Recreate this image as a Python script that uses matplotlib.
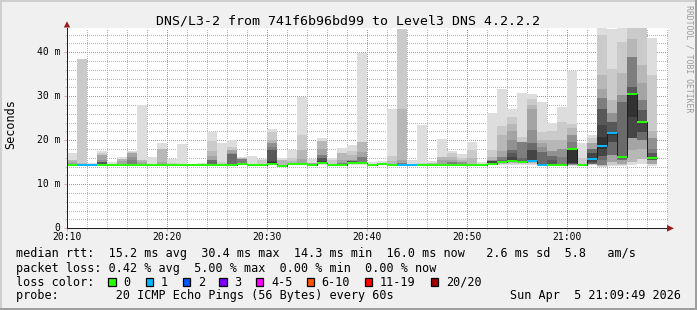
import numpy as np
import matplotlib
matplotlib.use("Agg")
import matplotlib.pyplot as plt
from matplotlib.patches import Rectangle, Polygon

# ---------------- data ----------------
time_labels = ["20:10", "20:20", "20:30", "20:40", "20:50", "21:00"]
y_labels = ["0", "10 m", "20 m", "30 m", "40 m"]

nan = float("nan")
# median rtt per minute (ms), 20:10 .. 21:09
median = [14.3, 14.3, 14.3, 14.3, 14.3, 14.3, 14.3, 14.3, 14.3, 14.3,
          14.3, 14.3, 14.3, 14.3, 14.3, 14.3, 14.3, 14.5, 14.3, 14.3,
          14.5, 14.2, 14.5, 14.5, 14.3, 14.8, 14.3, 14.3, 14.8, 14.8,
          14.3, 14.5, 14.3, 14.3, 14.3, 14.4, 14.3, 14.3, 14.3, 14.3,
          14.3, 14.3, 14.6, 15.0, 15.3, 15.1, 15.3, 14.4, 14.3, 14.4,
          18.0, 14.4, 15.8, 18.6, 21.6, 16.1, 30.4, 24.1, 16.0, nan]

# lost pings (of 20) per minute
loss_pings = [0, 1, 1, 0, 0, 0, 0, 0, 0, 0,
              0, 0, 0, 0, 0, 0, 0, 0, 0, 0,
              0, 0, 0, 0, 0, 0, 0, 0, 0, 0,
              0, 0, 0, 1, 1, 0, 0, 0, 0, 0,
              0, 0, 0, 0, 0, 0, 1, 1, 0, 0,
              0, 0, 1, 1, 1, 0, 0, 0, 0, 0]

# smoke: upper edges of ping-rank bands (outer -> inner), ms
smoke_hi = [
    [17.1, 15.5, 15.5, 15.1],
    [38.5, 38.5, 14.8],
    [14.85],
    [17.6, 17.1, 16.6, 16.6, 15.5, 15.1, 15.1, 15.1],
    [15.0],
    [16.1, 15.8, 15.8, 15.2],
    [17.6, 17.3, 17.05, 17.05, 16.1, 15.5],
    [28.0, 15.5, 15.5, 15.1],
    [16.1],
    [19.4, 18.0, 18.0, 15.0],
    [15.75, 14.85],
    [19.1],
    [14.5],
    [14.85],
    [21.9, 19.85, 17.5, 16.4, 15.5, 15.5, 15.5],
    [19.4, 15.1],
    [20.0, 18.5, 17.9, 17.9, 17.1, 16.8, 16.8],
    [16.2, 15.9, 15.9, 15.7, 15.7, 15.7],
    [16.4],
    [15.75, 15.5],
    [22.5, 21.8, 20.0, 19.3, 19.3, 18.5, 17.8, 17.8, 15.25, 15.0],
    [15.9, 15.5, 15.5],
    [17.9, 16.0, 15.2],
    [29.9, 21.1, 17.7, 15.7],
    [15.85, 14.9, 14.9, 14.9],
    [20.5, 19.85, 19.85, 18.1, 16.7, 16.7, 16.0, 16.0, 15.2],
    [16.0, 15.5],
    [18.2, 17.0, 17.0, 15.5, 14.9, 14.9],
    [18.9, 17.65, 16.6, 15.6, 15.6, 15.2, 15.2, 15.2],
    [39.9, 19.6, 19.6, 17.35, 16.2, 16.2, 15.1, 15.1, 15.1, 15.1],
    [15.1],
    [15.4, 14.9, 14.9],
    [27.0, 16.45, 15.2],
    [45.2, 45.2, 27.0, 15.5, 14.9, 14.9],
    [15.5],
    [23.4, 14.9],
    [15.2, 14.85, 14.85],
    [20.2, 16.2, 16.2, 15.5],
    [17.5, 17.1, 16.2, 15.6, 15.1, 15.1],
    [16.9, 16.0, 15.6, 15.1, 15.1],
    [19.55, 17.9, 16.0],
    [15.1],
    [26.3, 17.7, 16.2, 15.6, 15.6, 15.2, 15.2, 15.2, 15.2],
    [31.6, 23.3, 21.1, 17.5, 16.2, 16.2, 15.5],
    [27.0, 25.3, 23.8, 22.05, 20.0, 17.9, 17.9, 17.0, 16.1],
    [30.8, 20.7, 19.7, 19.7, 19.7, 19.7, 16.0],
    [30.6, 29.3, 28.0, 27.2, 22.3, 19.3, 19.3, 17.7, 17.7],
    [28.7, 21.9, 20.0, 19.3, 18.5, 17.35, 17.35],
    [23.9, 22.05, 20.0, 17.6, 17.6, 16.4, 16.4, 15.5],
    [27.6, 24.2, 20.0, 18.1, 18.1, 16.1],
    [35.8, 23.8, 22.7, 21.1, 21.1, 19.5],
    [19.3, 16.0],
    [21.3, 20.6, 19.3, 19.3, 18.1, 18.1, 18.1, 17.0, 17.0],
    [45.5, 43.9, 34.8, 31.7, 29.5, 29.5, 27.2, 27.2, 23.4, 20.8],
    [45.2, 36.1, 29.1, 26.1, 26.1, 24.2, 24.2, 24.2, 21.9, 21.9],
    [45.4, 42.4, 35.2, 30.2, 30.2, 28.7, 28.7],
    [45.5, 45.5, 43.1, 39.0, 39.0, 39.0, 32.1, 32.1, 30.6],
    [45.4, 45.4, 37.05, 32.9, 29.1, 29.1, 26.8, 26.8, 24.3],
    [43.3, 34.9, 22.05, 20.4, 20.4, 18.1, 17.0, 17.0],
    [],
]

# smoke: lower edges of ping-rank bands (outer -> inner), ms
smoke_lo = [[] for _ in range(60)]
smoke_lo[17] = [14.3]
smoke_lo[20] = [14.3, 14.4]
smoke_lo[22] = [14.3]
smoke_lo[23] = [14.3]
smoke_lo[25] = [14.3, 14.5]
smoke_lo[28] = [14.3, 14.5]
smoke_lo[29] = [14.3, 14.5]
smoke_lo[31] = [14.3]
smoke_lo[42] = [14.3, 14.4]
smoke_lo[43] = [14.3, 14.5, 14.7]
smoke_lo[44] = [14.3, 14.6, 14.8, 15.0]
smoke_lo[45] = [14.3, 14.6, 14.8]
smoke_lo[46] = [14.3, 14.6, 14.8, 15.0]
smoke_lo[50] = [14.2, 14.3, 14.3, 14.3, 14.3, 14.5, 14.5, 14.5, 14.75, 14.75]
smoke_lo[52] = [14.3, 14.4, 14.5, 14.6, 14.6, 14.6, 14.7, 14.9, 15.1]
smoke_lo[53] = [14.0, 14.1, 14.2, 14.3, 14.3, 14.3, 15.5, 16.4, 16.4, 18.1]
smoke_lo[54] = [14.2, 14.3, 15.1, 15.1, 16.6, 16.6, 16.6, 19.6, 19.6, 21.3]
smoke_lo[55] = [14.2, 14.4, 14.7, 14.7, 15.5, 15.5, 15.5]
smoke_lo[56] = [14.3, 15.1, 15.1, 17.7, 20.4, 20.4, 20.4, 20.4, 20.4, 25.3]
smoke_lo[57] = [14.5, 15.8, 15.8, 18.1, 20.0, 20.0, 20.0, 21.9, 21.9, 24.0]
smoke_lo[58] = [14.2, 14.5, 14.7, 14.7, 15.5, 15.5, 15.5, 15.5]

loss_labels = ["0", "1", "2", "3", "4-5", "6-10", "11-19", "20/20"]
loss_upper = [0, 1, 2, 3, 5, 10, 19, 20]
loss_colors = ["#26ff00", "#00b8ff", "#0059ff", "#7e00ff",
               "#ff00ff", "#ff5500", "#ff0000", "#a10000"]

title = "DNS/L3-2 from 741f6b96bd99 to Level3 DNS 4.2.2.2"
stat_rtt = "median rtt:  15.2 ms avg  30.4 ms max  14.3 ms min  16.0 ms now   2.6 ms sd  5.8   am/s"
stat_loss = "packet loss: 0.42 % avg  5.00 % max  0.00 % min  0.00 % now"
probe = "probe:        20 ICMP Echo Pings (56 Bytes) every 60s"
stamp = "Sun Apr  5 21:09:49 2026"

# ---------------- figure ----------------
plt.rcParams["font.family"] = ["DejaVu Sans Mono"]
W, H = 697, 310
fig = plt.figure(figsize=(W / 100, H / 100), dpi=100, facecolor="#f0f0f0")


def fx(x):
    return x / W


def fy(y):
    return 1 - y / H


L, R, T, B = 67, 668, 28, 228.3
ax = fig.add_axes([fx(L), fy(B), (R - L) / W, (B - T) / H])
ax.set_facecolor("white")
ax.set_xlim(0, 60.1)
ax.set_ylim(0, 45.5)
ms_per_px = 45.5 / (B - T)

n = len(median)
xs = np.arange(n)
med = np.array(median, dtype=float)

# smoke bands
for lev in range(10):
    lo = np.array([smoke_lo[k][lev] if lev < len(smoke_lo[k]) else med[k] for k in range(n)])
    hi = np.array([smoke_hi[k][lev] if lev < len(smoke_hi[k]) else med[k] for k in range(n)])
    g = int(190 / 10 * (10 - (lev + 1))) + 50
    col = "#%02x%02x%02x" % (g, g, g)
    h = hi - lo
    ok = np.isfinite(h) & (h > 0)
    ax.bar(xs[ok], h[ok], bottom=lo[ok], width=1, align="edge", color=col,
           linewidth=0, zorder=2)

# median step line
valid = np.isfinite(med)
ax.stairs(med[valid], np.arange(valid.sum() + 1), baseline=None,
          color="#202020", linewidth=0.72, zorder=3)

# median coloured by loss
loss_arr = np.array(loss_pings)
cls = np.searchsorted(np.array(loss_upper), loss_arr)
for c, col in enumerate(loss_colors):
    m = (cls == c) & valid
    if m.any():
        ax.bar(xs[m], np.full(m.sum(), 2 * ms_per_px), bottom=med[m] - ms_per_px,
               width=1, align="edge", color=col, linewidth=0, zorder=4)

# grid
ax.set_xticks(np.arange(0, 51, 10))
ax.set_xticks(np.arange(0, 61, 2), minor=True)
ax.set_xticklabels(time_labels)
ax.set_yticks(np.arange(0, 41, 10))
ax.set_yticks(np.arange(0, 45, 2), minor=True)
ax.set_yticklabels(y_labels, va="center")
ax.set_axisbelow(True)
ax.grid(which="minor", color="#b6b6b6", linestyle=(0, (0.72, 1.44)), linewidth=0.72,
        antialiased=False)
ax.grid(which="major", color="#e07e7e", linestyle=(0, (0.72, 1.44)), linewidth=0.72,
        antialiased=False)
ax.tick_params(which="major", length=2.2, width=0.72, color="#e8a0a0",
               labelsize=7.05, direction="out")
ax.tick_params(which="minor", length=1.4, width=0.72, color="#c8c8c8", direction="out")
ax.tick_params(axis="x", which="major", pad=0.8)
ax.tick_params(axis="y", which="major", pad=2.6)
for s in ["top", "right"]:
    ax.spines[s].set_visible(False)
for s in ["left", "bottom"]:
    ax.spines[s].set_color("#202020")
    ax.spines[s].set_linewidth(0.72)
    ax.spines[s].set_zorder(5)

# arrows
arrow_col = "#9b1c1c"
fig.add_artist(Polygon([(fx(667), fy(225.0)), (fx(667), fy(231.6)), (fx(674), fy(228.3))],
                       closed=True, facecolor=arrow_col, edgecolor="none",
                       transform=fig.transFigure))
fig.add_artist(Polygon([(fx(63.8), fy(27.5)), (fx(70.2), fy(27.5)), (fx(67), fy(21.3))],
                       closed=True, facecolor=arrow_col, edgecolor="none",
                       transform=fig.transFigure))

# texts
fig.text(fx(348.5), fy(24), title, fontsize=9.57, ha="center", va="baseline")
fig.text(fx(11), fy(124.5), "Seconds", fontsize=8.43, rotation=90, ha="center", va="center")
fig.text(fx(688.5), fy(5), "RRDTOOL / TOBI OETIKER", fontsize=5.86, rotation=270,
         ha="center", va="top", color="#9a9a9a")

fs = 8.43
fig.text(fx(16), fy(257.3), stat_rtt, fontsize=fs, ha="left", va="baseline")
fig.text(fx(16), fy(271.6), stat_loss, fontsize=fs, ha="left", va="baseline")
fig.text(fx(16), fy(285.7), "loss color:", fontsize=fs, ha="left", va="baseline")
box_x = [108.3, 145.7, 182.7, 219.3, 256.0, 306.7, 365.0, 431.0]
for bx, lab, col in zip(box_x, loss_labels, loss_colors):
    fig.add_artist(Rectangle((fx(bx), fy(286.0)), 7.3 / W, 7.7 / H, facecolor=col,
                             edgecolor="black", linewidth=0.9, transform=fig.transFigure))
    fig.text(fx(bx + 15), fy(285.7), lab, fontsize=fs, ha="left", va="baseline")
fig.text(fx(16), fy(299.4), probe, fontsize=fs, ha="left", va="baseline")
fig.text(fx(680.5), fy(299.4), stamp, fontsize=fs, ha="right", va="baseline")

# 3D-like frame
fig.add_artist(Rectangle((0, fy(2)), 1, 2 / H, facecolor="#cfcfcf", edgecolor="none",
                         transform=fig.transFigure))
fig.add_artist(Rectangle((0, 0), 2 / W, 1, facecolor="#cfcfcf", edgecolor="none",
                         transform=fig.transFigure))
fig.add_artist(Rectangle((0, 0), 1, 2 / H, facecolor="#9e9e9e", edgecolor="none",
                         transform=fig.transFigure))
fig.add_artist(Rectangle((fx(695), 0), 2 / W, 1, facecolor="#9e9e9e", edgecolor="none",
                         transform=fig.transFigure))

fig.savefig("out.png", dpi=100, facecolor=fig.get_facecolor())
